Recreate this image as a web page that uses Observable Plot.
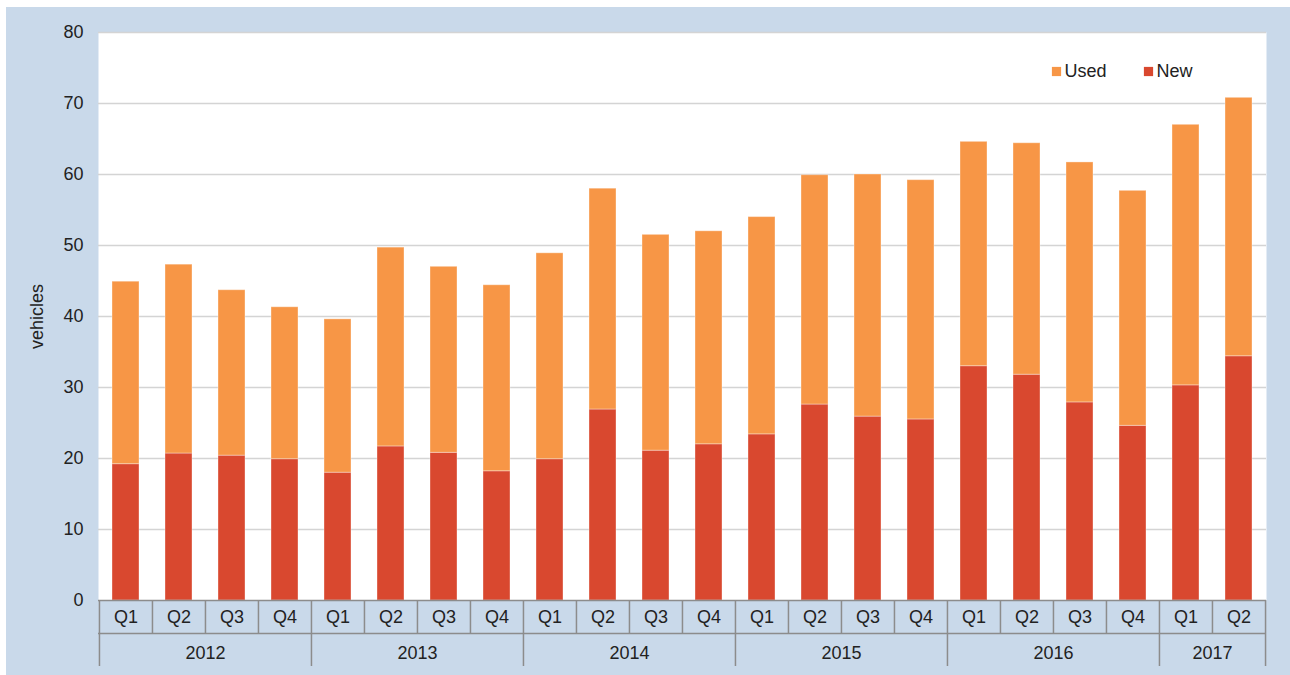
<!DOCTYPE html>
<html>
<head>
<meta charset="utf-8">
<script src="https://cdn.jsdelivr.net/npm/d3@7"></script>
<script src="https://cdn.jsdelivr.net/npm/@observablehq/plot@0.6"></script>
<style>
  html, body { margin: 0; padding: 0; background: #ffffff; }
  #chart svg { display: block; background: #c9d9ea; clip-path: inset(7px 0 0 6px); }
</style>
</head>
<body>
<div id="chart"></div>
<script>
// ---- data ----
const years    = ["2012", "2013", "2014", "2015", "2016", "2017"];
const quarters = ["Q1", "Q2", "Q3", "Q4"];
const quartersPerYear = [4, 4, 4, 4, 4, 2];
const totalVehicles = [44.9, 47.3, 43.7, 41.3,  39.6, 49.7, 47.0, 44.4,  48.9, 58.0, 51.5, 52.0,
                       54.0, 59.9, 60.0, 59.2,  64.6, 64.4, 61.7, 57.7,  67.0, 70.8];
const newVehicles   = [19.2, 20.7, 20.4, 19.9,  18.0, 21.7, 20.8, 18.2,  19.9, 26.9, 21.1, 22.0,
                       23.4, 27.6, 25.9, 25.5,  33.0, 31.8, 27.9, 24.6,  30.3, 34.4];
const seriesNames  = ["Used", "New"];
const seriesColors = ["#f79646", "#d9482f"];
const yTicks = [0, 10, 20, 30, 40, 50, 60, 70, 80];

// ---- build table ----
const keys = [];
years.forEach((y, yi) => {
  for (let q = 0; q < quartersPerYear[yi]; q++) keys.push(y + " " + quarters[q]);
});
const rows = [];
keys.forEach((k, i) => {
  rows.push({key: k, series: "New", value: newVehicles[i]});
  rows.push({key: k, series: "Used", value: +(totalVehicles[i] - newVehicles[i]).toFixed(1)});
});
const yearStarts = [];
const yearMids = [];
let idx = 0;
years.forEach((y, yi) => {
  const n = quartersPerYear[yi];
  yearStarts.push(keys[idx]);
  yearMids.push({year: y, key: keys[idx + Math.floor((n - 1) / 2)], even: n % 2 === 0});
  idx += n;
});

// ---- layout ----
const W = 1290, H = 675, mL = 98, mR = 24, mT = 32, mB = 75;
const plotH = H - mT - mB;
const step = (W - mL - mR) / keys.length;
const row = 33;
const fs = 18;
const textColor = "#222222";
const lineColor = "#8c8c8c";

const legendMarks = seriesNames.flatMap((s, i) => [
  Plot.dot([s], {frameAnchor: "top-right", dx: -210 + i * 92, dy: 39, symbol: "square", r: 5.2, fill: seriesColors[i], stroke: null}),
  Plot.text([s], {frameAnchor: "top-right", dx: -202 + i * 92, dy: 39, text: d => d, textAnchor: "start", lineAnchor: "middle", fontSize: fs, fill: textColor})
]);

const chart = Plot.plot({
  width: W, height: H,
  marginLeft: mL, marginRight: mR, marginTop: mT, marginBottom: mB,
  style: {fontFamily: "Liberation Sans, Arial, sans-serif", background: "#c9d9ea", color: textColor},
  x: {type: "band", domain: keys, paddingInner: 0.5, paddingOuter: 0.25, label: null},
  y: {domain: [0, 80], label: null},
  color: {domain: seriesNames, range: seriesColors},
  marks: [
    Plot.frame({fill: "white", stroke: null}),
    Plot.ruleY(yTicks.filter(d => d > 0), {stroke: "#d4d4d4", strokeWidth: 1.5}),
    Plot.barY(rows, {x: "key", y: "value", fill: "series", order: ["New", "Used"], stroke: "#fff", strokeOpacity: 0.35, strokeWidth: 1}),
    Plot.ruleY([0], {stroke: lineColor, strokeWidth: 1.5}),
    Plot.ruleY([0], {stroke: lineColor, strokeWidth: 1.5, dy: row}),
    // quarter separators
    Plot.ruleX(keys, {x: d => d, dx: -step / 2, insetTop: plotH, insetBottom: -row, stroke: lineColor, strokeWidth: 1.5}),
    Plot.ruleX([keys[keys.length - 1]], {x: d => d, dx: step / 2, insetTop: plotH, insetBottom: -row, stroke: lineColor, strokeWidth: 1.5}),
    // year separators
    Plot.ruleX(yearStarts, {x: d => d, dx: -step / 2, insetTop: plotH + row, insetBottom: -2 * row, stroke: lineColor, strokeWidth: 1.5}),
    Plot.ruleX([keys[keys.length - 1]], {x: d => d, dx: step / 2, insetTop: plotH + row, insetBottom: -2 * row, stroke: lineColor, strokeWidth: 1.5}),
    // quarter labels
    Plot.axisX({tickSize: 0, tickPadding: 10, fontSize: fs, tickFormat: d => d.split(" ")[1], label: null, fill: textColor}),
    // year labels
    Plot.text(yearMids.filter(d => d.even), {x: "key", text: "year", dx: step / 2, frameAnchor: "bottom", dy: 46, lineAnchor: "top", fontSize: fs, fill: textColor}),
    Plot.text(yearMids.filter(d => !d.even), {x: "key", text: "year", frameAnchor: "bottom", dy: 46, lineAnchor: "top", fontSize: fs, fill: textColor}),
    // y axis
    Plot.axisY({ticks: yTicks, tickSize: 0, tickPadding: 15, fontSize: fs, label: null, fill: textColor}),
    Plot.text(["vehicles"], {frameAnchor: "left", dx: -61, rotate: -90, textAnchor: "middle", lineAnchor: "middle", fontSize: 18, fill: textColor}),
    ...legendMarks
  ]
});
document.getElementById("chart").append(chart);
</script>
</body>
</html>
